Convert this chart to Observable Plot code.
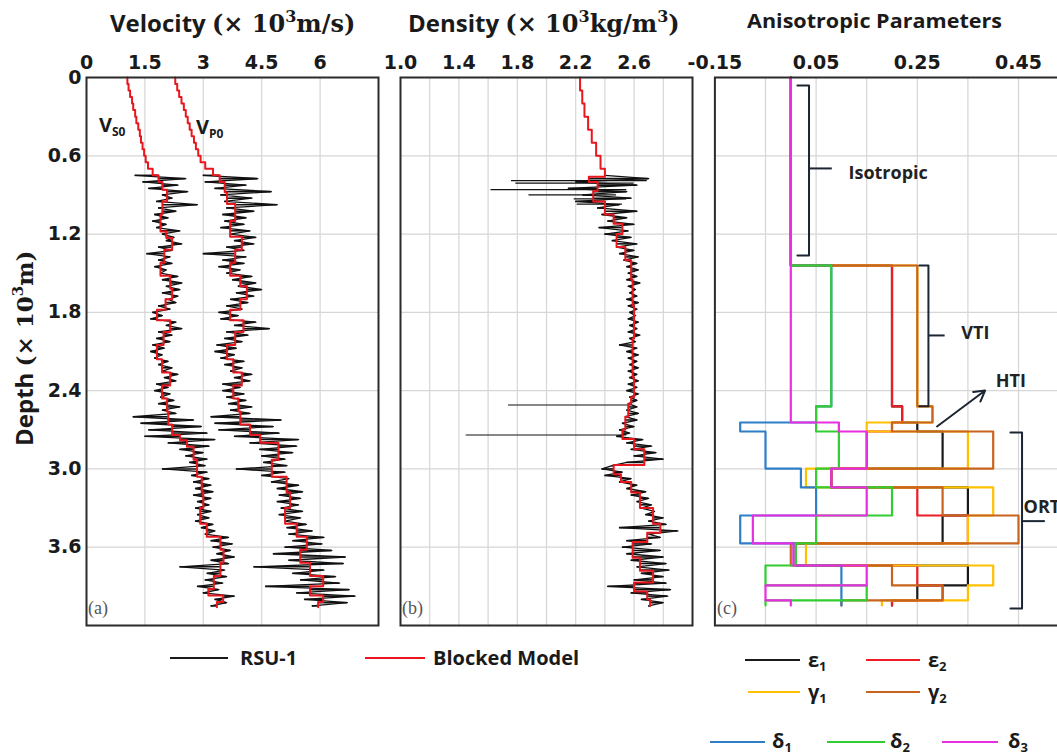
<!DOCTYPE html>
<html><head><meta charset="utf-8">
<script src="https://cdn.jsdelivr.net/npm/d3@7"></script>
<script src="https://cdn.jsdelivr.net/npm/@observablehq/plot@0.6"></script>
<style>
html,body{margin:0;padding:0;background:#fff;overflow:hidden;}
#root{position:relative;width:1057px;height:756px;overflow:hidden;background:#fff;}
</style></head>
<body><div id="root"></div>
<script>
// ---------- depth axis ----------
const depthTicks = [0, 0.6, 1.2, 1.8, 2.4, 3.0, 3.6];
const depthGrid = [0.6, 1.2, 1.8, 2.4, 3.0, 3.6];
const depthDomain = [0, 4.2];

// ---------- panel (a) velocity ----------
const velTicks = [0, 1.5, 3, 4.5, 6];
const velTickLabels = ["0", "1.5", "3", "4.5", "6"];
const velGrid = [1.5, 3, 4.5, 6];
// RSU-1 log sampling
const logTop = 0.75, logStep = 0.025;
const vsLog = [
 1.25,2.55,1.45,2.35,1.60,2.60,1.95,2.20,1.80,2.85,
 1.85,2.30,1.75,2.10,1.70,2.05,1.80,2.40,1.95,2.25,
 2.05,2.45,1.85,2.20,1.55,2.15,1.85,2.20,1.75,2.05,
 1.90,2.35,1.95,2.45,2.05,2.40,1.95,2.35,2.10,2.30,
 1.85,2.15,1.70,1.95,1.65,2.30,2.05,2.45,1.85,2.20,
 1.80,2.15,1.70,2.00,1.65,1.95,1.75,2.10,1.85,2.20,
 1.95,2.35,2.00,2.30,1.80,2.10,1.75,2.15,1.90,2.25,
 1.85,2.40,1.95,2.30,1.20,2.75,1.40,2.95,1.60,3.10,
 1.50,3.30,2.10,3.15,2.40,3.00,2.55,3.10,2.65,3.05,
 1.95,3.10,2.70,3.15,2.75,3.20,2.80,3.25,2.75,3.20,
 2.85,3.15,2.80,3.20,2.85,3.15,2.80,3.25,2.95,3.30,
 3.05,3.65,3.20,3.75,3.25,3.70,3.35,3.80,3.20,3.65,
 2.40,3.55,3.10,3.60,3.05,3.50,2.85,3.40,3.00,3.80,
 3.30,3.60,3.20];
const vpLog = [
 3.00,4.40,3.05,4.10,3.30,4.75,3.45,4.25,3.55,4.90,
 3.60,4.30,3.50,4.10,3.55,4.05,3.45,4.20,3.70,4.35,
 3.80,4.30,3.60,4.05,3.00,4.10,3.50,4.05,3.40,3.95,
 3.60,4.25,3.75,4.35,3.90,4.50,3.85,4.30,3.70,4.15,
 3.60,4.00,3.40,3.90,3.45,4.35,3.80,4.70,3.60,4.15,
 3.55,4.00,3.35,3.85,3.30,3.80,3.45,4.05,3.55,4.00,
 3.70,4.25,3.80,4.20,3.50,3.95,3.50,4.05,3.60,4.10,
 3.65,4.25,3.70,4.20,3.20,5.00,3.30,4.80,3.40,4.95,
 3.80,5.45,4.20,5.40,4.45,5.30,4.50,5.10,4.55,5.15,
 3.85,5.10,4.50,5.20,4.75,5.45,4.90,5.55,4.95,5.50,
 4.90,5.45,5.00,5.55,4.95,5.50,5.10,5.65,5.15,5.80,
 5.20,6.10,5.30,6.05,5.10,6.30,4.80,6.65,5.20,6.60,
 4.30,6.10,5.30,6.40,5.50,6.50,4.60,6.75,5.40,6.90,
 5.60,6.70,5.80];
// blocked model (layer tops, values)
const vsBlockTop = [0,0.05,0.10,0.15,0.20,0.25,0.30,0.35,0.40,0.45,0.50,0.55,0.60,0.65,0.70,0.75,0.80,0.86,0.95,1.05,1.18,1.23,1.32,1.42,1.52,1.62,1.70,1.78,1.86,1.95,2.05,2.16,2.26,2.36,2.46,2.56,2.66,2.74,2.78,2.83,2.93,3.06,3.18,3.30,3.42,3.52,3.62,3.72,3.82,3.92,3.97,4.02];
const vsBlockVal = [1.05,1.08,1.12,1.17,1.20,1.25,1.28,1.33,1.37,1.40,1.44,1.48,1.52,1.58,1.70,1.85,1.95,2.07,1.95,1.90,2.05,2.20,2.00,1.90,2.15,2.20,2.03,1.81,2.15,1.98,1.81,1.94,2.15,1.94,2.07,2.10,2.20,2.40,2.58,2.75,2.84,2.96,3.00,2.92,3.09,3.44,3.52,3.44,3.27,3.13,3.51,3.35];
const vpBlockTop = [0,0.05,0.10,0.15,0.20,0.25,0.30,0.35,0.40,0.45,0.50,0.55,0.60,0.65,0.70,0.75,0.80,0.88,0.97,1.10,1.22,1.32,1.42,1.52,1.60,1.70,1.78,1.86,1.95,2.05,2.16,2.26,2.36,2.46,2.56,2.66,2.74,2.80,2.93,3.06,3.18,3.30,3.42,3.52,3.62,3.72,3.82,3.90,3.97,4.02];
const vpBlockVal = [2.28,2.33,2.38,2.44,2.50,2.55,2.60,2.65,2.70,2.76,2.81,2.87,2.93,3.05,3.25,3.42,3.55,3.61,3.82,3.69,3.99,3.82,3.69,3.95,4.12,3.95,3.69,4.03,3.82,3.61,3.77,3.99,3.77,3.90,3.95,4.20,4.46,4.93,4.76,5.14,5.23,5.10,5.40,5.66,5.49,5.74,6.08,5.74,6.08,5.95];
const blockEnd = 4.06;

// ---------- panel (b) density ----------
const denTicks = [1.0, 1.4, 1.8, 2.2, 2.6];
const denGrid = [1.2, 1.4, 1.6, 1.8, 2.0, 2.2, 2.4, 2.6, 2.8];
const denLog = [
 2.40,2.70,2.20,2.62,2.15,2.55,2.25,2.58,2.20,2.50,
 2.35,2.62,2.38,2.55,2.42,2.60,2.36,2.56,2.40,2.58,
 2.45,2.62,2.48,2.60,2.50,2.63,2.53,2.62,2.55,2.63,
 2.56,2.62,2.55,2.64,2.56,2.61,2.57,2.62,2.55,2.63,
 2.56,2.62,2.57,2.61,2.56,2.63,2.57,2.62,2.56,2.64,
 2.57,2.61,2.50,2.62,2.55,2.63,2.56,2.62,2.57,2.63,
 2.56,2.62,2.57,2.63,2.56,2.62,2.55,2.63,2.57,2.62,
 2.56,2.62,2.55,2.63,2.54,2.62,2.52,2.60,2.50,2.57,
 2.48,2.66,2.55,2.72,2.58,2.75,2.60,2.80,2.55,2.45,
 2.38,2.52,2.40,2.58,2.50,2.62,2.55,2.68,2.58,2.70,
 2.62,2.72,2.65,2.74,2.68,2.80,2.70,2.82,2.50,2.90,
 2.70,2.78,2.55,2.72,2.52,2.78,2.55,2.80,2.58,2.82,
 2.62,2.84,2.65,2.80,2.60,2.82,2.42,2.85,2.58,2.83,
 2.65,2.80,2.70];
// isolated long spikes of the density log
const denSpikeDepth = [0.79, 0.81, 0.86, 0.90, 0.93, 0.97, 2.51, 2.74];
const denSpikeFrom  = [1.76, 1.79, 1.62, 1.88, 2.19, 2.21, 1.74, 1.45];
const denSpikeTo    = [2.69, 2.60, 2.55, 2.48, 2.55, 2.52, 2.58, 2.55];
const denBlockTop = [0,0.1,0.2,0.3,0.4,0.5,0.6,0.7,0.76,0.80,0.87,0.95,1.05,1.12,1.20,1.30,1.40,1.55,1.75,2.00,2.30,2.45,2.50,2.60,2.70,2.77,2.85,2.97,3.04,3.10,3.18,3.30,3.42,3.49,3.56,3.68,3.78,3.87,3.94,4.00];
const denBlockVal = [2.23,2.245,2.26,2.285,2.31,2.34,2.37,2.40,2.29,2.35,2.32,2.40,2.46,2.52,2.48,2.54,2.58,2.59,2.60,2.59,2.60,2.58,2.56,2.54,2.52,2.60,2.67,2.46,2.51,2.58,2.64,2.73,2.78,2.69,2.59,2.64,2.73,2.60,2.69,2.71];
const denBlockEnd = 4.05;

// ---------- panel (c) anisotropic parameters ----------
const anTicks = [-0.15, 0.05, 0.25, 0.45];
const anGrid = [-0.05, 0.05, 0.15, 0.25, 0.35, 0.45];
const layerTops = [0, 1.441, 2.521, 2.644, 2.713, 2.997, 3.142, 3.357, 3.571, 3.740, 3.893, 4.008];
const layerEnd = 4.047;
const eps1 = [0, 0.20, 0.22, 0.25, 0.30, 0.08, 0.35, 0.30, 0.01, 0.35, 0.25, 0.20];
const eps2 = [0, 0.20, 0.22, 0.20, 0.15, 0.08, 0.25, 0.35, 0.01, 0.25, 0.30, 0.20];
const gam1 = [0, 0.25, 0.28, 0.15, 0.35, 0.03, 0.40, 0.35, 0.03, 0.40, 0.35, 0.18];
const gam2 = [0, 0.25, 0.28, 0.20, 0.40, 0.08, 0.30, 0.45, 0.00, 0.20, 0.30, 0.10];
const del1 = [0, 0.08, 0.05, -0.10, -0.05, 0.02, 0.05, -0.10, 0.01, 0.10, 0.10, 0.10];
const del2 = [0, 0.08, 0.05, 0.05, 0.095, 0.05, 0.20, 0.05, 0.01, -0.05, 0.15, -0.05];
const del3 = [0, 0, 0, 0.095, 0.15, 0.08, 0.15, -0.075, 0.005, 0.15, -0.05, 0.0];
const paramNames = ["ε1","ε2","γ1","γ2","δ1","δ2","δ3"];
const paramColors = ["#1a1a1a","#ee1c24","#ffc000","#c8641e","#2f7fc8","#33cc33","#e82ee0"];
const paramValues = [eps1, eps2, gam1, gam2, del1, del2, del3];
// zone annotations (brackets)
const zoneNames  = ["Isotropic", "VTI", "ORT"];
const zoneX      = [0.036, 0.272, 0.457];
const zoneHook   = [0.013, 0.254, 0.434];
const zoneTop    = [0.061, 1.441, 2.72];
const zoneBottom = [1.364, 2.52, 4.07];
const zoneMid    = [0.697, 1.977, 3.40];
const zoneTip    = [0.082, 0.305, 0.503];
const zoneLabelX = [0.114, 0.337, 0.46];
const zoneLabelY = [0.73, 1.96, 3.29];
const htiArrow = {x1: 0.289, y1: 2.675, x2: 0.384, y2: 2.399, lx: 0.405, ly: 2.33};

// ---------- helpers ----------
const toRows = vals => vals.map((v, i) => ({depth: logTop + i * logStep, value: v}));
const toSteps = (tops, vals, end) =>
  tops.map((d, i) => ({depth: d, value: vals[i]})).concat([{depth: end, value: vals[vals.length - 1]}]);
// horizontal excursions of each log sample away from the blocked model
const excursions = (vals, tops, blockVals) => toRows(vals).map(r => {
  const k = Math.max(0, d3.bisectRight(tops, r.depth) - 1);
  return {depth: r.depth, base: blockVals[k], value: r.value};
});
const gridColor = "#d6d6d6";
const frameColor = "#2b2b2b";
const red = "#e8161d";
const logColor = "#111";
const baseStyle = {background: "transparent", fontFamily: "'DejaVu Sans', sans-serif", fontSize: "19px",
  fontWeight: "bold", color: "#1a1a1a", overflow: "visible", maxWidth: "none"};
const depthFmt = d => d === 0 ? "0" : d.toFixed(1);

const root = document.getElementById("root");
function place(el, left, top) {
  el.style.position = "absolute"; el.style.left = left + "px"; el.style.top = top + "px";
  root.appendChild(el);
}
const logMarks = (vals, tops, blockVals) => [
  Plot.ruleY(excursions(vals, tops, blockVals), {y: "depth", x1: "base", x2: "value", stroke: logColor, strokeWidth: 1.6}),
  Plot.line(toRows(vals), {x: "value", y: "depth", stroke: logColor, strokeWidth: 1.3})
];

// ---------- panel a ----------
const plotA = Plot.plot({
  width: 390, height: 640, marginLeft: 86, marginRight: 12, marginTop: 77, marginBottom: 15,
  style: baseStyle,
  x: {domain: [0, 7.5], axis: "top", ticks: velTicks, tickFormat: (d, i) => velTickLabels[i], tickSize: 0, tickPadding: 9, label: null},
  y: {domain: depthDomain, reverse: true, ticks: depthTicks, tickFormat: depthFmt, tickSize: 0, tickPadding: 5, label: null},
  marks: [
    Plot.ruleX(velGrid, {stroke: gridColor, strokeWidth: 1.2}),
    Plot.ruleY(depthGrid, {stroke: gridColor, strokeWidth: 1.2}),
    ...logMarks(vsLog, vsBlockTop, vsBlockVal),
    ...logMarks(vpLog, vpBlockTop, vpBlockVal),
    Plot.line(toSteps(vsBlockTop, vsBlockVal, blockEnd), {x: "value", y: "depth", curve: "step-before", stroke: red, strokeWidth: 2}),
    Plot.line(toSteps(vpBlockTop, vpBlockVal, blockEnd), {x: "value", y: "depth", curve: "step-before", stroke: red, strokeWidth: 2}),
    Plot.frame({stroke: frameColor, strokeWidth: 2})
  ]
});
place(plotA, 0, 0);

// ---------- panel b ----------
const spikes = denSpikeDepth.map((d, i) => ({depth: d, from: denSpikeFrom[i], to: denSpikeTo[i]}));
const plotB = Plot.plot({
  width: 315, height: 640, marginLeft: 10, marginRight: 13, marginTop: 77, marginBottom: 15,
  style: baseStyle,
  x: {domain: [1, 3], axis: "top", ticks: denTicks, tickFormat: d => d.toFixed(1), tickSize: 0, tickPadding: 9, label: null},
  y: {domain: depthDomain, reverse: true, axis: null},
  marks: [
    Plot.ruleX(denGrid, {stroke: gridColor, strokeWidth: 1.2}),
    Plot.ruleY(depthGrid, {stroke: gridColor, strokeWidth: 1.2}),
    Plot.ruleY(spikes, {y: "depth", x1: "from", x2: "to", stroke: logColor, strokeWidth: 1.2}),
    ...logMarks(denLog, denBlockTop, denBlockVal),
    Plot.line(toSteps(denBlockTop, denBlockVal, denBlockEnd), {x: "value", y: "depth", curve: "step-before", stroke: red, strokeWidth: 2}),
    Plot.frame({stroke: frameColor, strokeWidth: 2})
  ]
});
place(plotB, 390, 0);

// ---------- panel c ----------
const zones = zoneNames.map((n, i) => ({name: n, x: zoneX[i], hook: zoneHook[i], top: zoneTop[i], bottom: zoneBottom[i],
  mid: zoneMid[i], tip: zoneTip[i], lx: zoneLabelX[i], ly: zoneLabelY[i]}));
const bracketMarks = zones.flatMap(z => [
  Plot.line([{x: z.hook, y: z.top}, {x: z.x, y: z.top}, {x: z.x, y: z.bottom}, {x: z.hook, y: z.bottom}],
    {x: "x", y: "y", stroke: "#1c2533", strokeWidth: 2}),
  Plot.ruleY([z], {y: "mid", x1: "x", x2: "tip", stroke: "#1c2533", strokeWidth: 2})
]);
const plotC = Plot.plot({
  width: 380, height: 640, marginLeft: 9.4, marginRight: 16.4, marginTop: 77, marginBottom: 15,
  style: baseStyle,
  x: {domain: [-0.15, 0.55], axis: "top", ticks: anTicks, tickFormat: d => d.toFixed(2), tickSize: 0, tickPadding: 9, label: null},
  y: {domain: depthDomain, reverse: true, axis: null},
  marks: [
    Plot.ruleX(anGrid, {stroke: gridColor, strokeWidth: 1.2}),
    Plot.ruleY(depthGrid, {stroke: gridColor, strokeWidth: 1.2}),
    ...paramValues.map((vals, i) => Plot.line(toSteps(layerTops, vals, layerEnd),
      {x: "value", y: "depth", curve: "step-before", stroke: paramColors[i], strokeWidth: 2.2})),
    ...bracketMarks,
    Plot.arrow([htiArrow], {x1: "x1", y1: "y1", x2: "x2", y2: "y2", stroke: "#1c2533", strokeWidth: 2, headLength: 9, bend: 0}),
    Plot.text(zones, {x: "lx", y: "ly", text: "name", textAnchor: "start", fontFamily: "'Open Sans', sans-serif", fontSize: 18, fontWeight: "bold", fill: "#222"}),
    Plot.text([htiArrow], {x: "lx", y: "ly", text: () => "HTI", textAnchor: "start", fontFamily: "'Open Sans', sans-serif", fontSize: 18, fontWeight: "bold", fill: "#222"}),
    Plot.frame({stroke: frameColor, strokeWidth: 2})
  ]
});
place(plotC, 705, 0);

// ---------- titles, labels, legends ----------
const S = 'font-family="DejaVu Serif" font-weight="700"';
const O = 'font-family="Open Sans" font-weight="700"';
function legendItem(x1, x2, y, color, label, sub, tx, ty) {
  return `<line x1="${x1}" x2="${x2}" y1="${y}" y2="${y}" stroke="${color}" stroke-width="2"/>` +
    `<text x="${tx}" y="${ty}" ${O} font-size="20" fill="#1a1a1a">${label}${sub ? `<tspan font-size="13" dy="4">${sub}</tspan>` : ""}</text>`;
}
const overlay = `
<svg xmlns="http://www.w3.org/2000/svg" width="1057" height="756" style="position:absolute;left:0;top:0;pointer-events:none">
 <text x="110" y="32" ${O} font-size="24" fill="#1a1a1a">Velocity <tspan ${S} font-size="24">(× 10</tspan><tspan ${S} font-size="16" dy="-10">3</tspan><tspan ${S} font-size="24" dy="10">m/s)</tspan></text>
 <text x="408" y="32" ${O} font-size="24" fill="#1a1a1a">Density <tspan ${S} font-size="24">(× 10</tspan><tspan ${S} font-size="16" dy="-10">3</tspan><tspan ${S} font-size="24" dy="10">kg/m</tspan><tspan ${S} font-size="16" dy="-10">3</tspan><tspan ${S} font-size="24" dy="10">)</tspan></text>
 <text x="747" y="28" ${O} font-size="19" fill="#1a1a1a" textLength="255" lengthAdjust="spacingAndGlyphs">Anisotropic Parameters</text>
 <text transform="translate(33,446) rotate(-90)" ${O} font-size="24" fill="#1a1a1a">Depth <tspan ${S} font-size="23">(× 10</tspan><tspan ${S} font-size="15" dy="-10">3</tspan><tspan ${S} font-size="23" dy="10">m)</tspan></text>
 <text x="99" y="132" ${O} font-size="20" fill="#1a1a1a">V<tspan font-size="12" dy="4">S0</tspan></text>
 <text x="196" y="134" ${O} font-size="20" fill="#1a1a1a">V<tspan font-size="12" dy="4">P0</tspan></text>
 <text x="88" y="614" font-family="Liberation Serif" font-size="18" fill="#555">(a)</text>
 <text x="402" y="614" font-family="Liberation Serif" font-size="18" fill="#555">(b)</text>
 <text x="717" y="614" font-family="Liberation Serif" font-size="18" fill="#555">(c)</text>
 ${legendItem(170, 228, 658, "#1a1a1a", "RSU-1", "", 240, 665)}
 ${legendItem(365, 425, 658, red, "Blocked Model", "", 433, 665)}
 ${legendItem(745, 800, 660, paramColors[0], "ε", "1", 808, 667)}
 ${legendItem(866, 920, 660, paramColors[1], "ε", "2", 928, 667)}
 ${legendItem(748, 800, 692, paramColors[2], "γ", "1", 808, 699)}
 ${legendItem(866, 920, 692, paramColors[3], "γ", "2", 928, 699)}
 ${legendItem(710, 765, 742, paramColors[4], "δ", "1", 772, 748)}
 ${legendItem(827, 885, 742, paramColors[5], "δ", "2", 890, 748)}
 ${legendItem(942, 998, 742, paramColors[6], "δ", "3", 1008, 748)}
</svg>`;
root.insertAdjacentHTML("beforeend", overlay);
</script>
</body></html>
